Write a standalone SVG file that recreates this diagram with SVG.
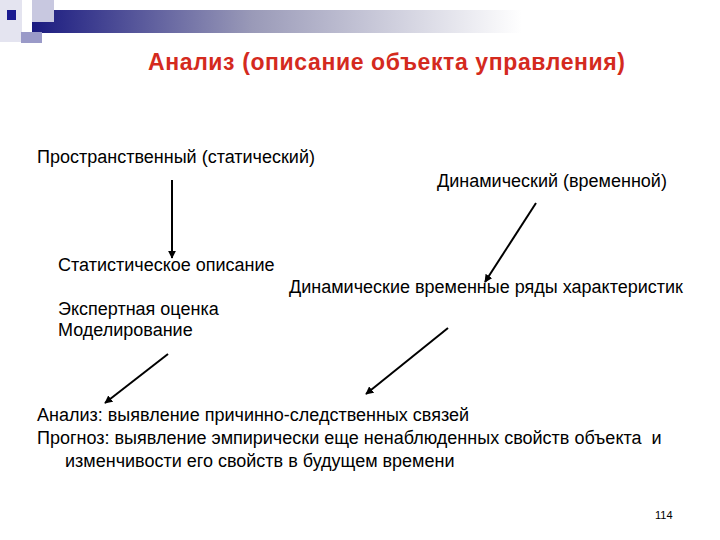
<svg xmlns="http://www.w3.org/2000/svg" width="720" height="540" viewBox="0 0 720 540">
<style>
.t{font-family:"Liberation Sans",Arial,sans-serif;font-size:18px;fill:#000}
.title{font-family:"Liberation Sans",Arial,sans-serif;font-size:23px;font-weight:bold;fill:#d42a1e}
.ln{stroke:#000;stroke-width:2;fill:none;marker-end:url(#ah)}
</style>
<defs>
<linearGradient id="bar" x1="0" y1="0" x2="1" y2="0">
<stop offset="0" stop-color="#1a1a80"/>
<stop offset="0.45" stop-color="#9a9ab8"/>
<stop offset="1" stop-color="#ffffff"/>
</linearGradient>
<marker id="ah" viewBox="0 0 10 10" refX="9" refY="5" markerWidth="4" markerHeight="4" orient="auto" markerUnits="strokeWidth">
<path d="M0,0 L10,5 L0,10 z" fill="#000"/>
</marker>
</defs>
<rect width="720" height="540" fill="#fff"/>
<g id="decoration">
<rect x="0" y="0" width="22" height="42" fill="#e4e4f0"/>
<rect x="32" y="10" width="490" height="23" fill="url(#bar)"/>
<rect x="32" y="0" width="22" height="22" fill="#c8c8e0"/>
<rect x="7" y="10" width="9" height="10" fill="#1a1a90"/>
<rect x="21" y="32" width="21" height="11" fill="#9a9ac8"/>
</g>
<g id="title"><text class="title" x="148" y="70" textLength="477" lengthAdjust="spacing">Анализ (описание объекта управления)</text></g>
<g id="spatial"><text class="t" x="37" y="163">Пространственный (статический)</text></g>
<g id="dynamic"><text class="t" x="437" y="187">Динамический (временной)</text></g>
<g id="static-methods">
<text class="t" x="58" y="271">Статистическое описание</text>
<text class="t" x="58" y="315">Экспертная оценка</text>
<text class="t" x="58" y="336">Моделирование</text>
</g>
<g id="dynamic-methods"><text class="t" x="289" y="293">Динамические временные ряды характеристик</text></g>
<g id="result">
<text class="t" x="37" y="421">Анализ: выявление причинно-следственных связей</text>
<text class="t" x="37" y="444" style="white-space:pre">Прогноз: выявление эмпирически еще ненаблюденных свойств объекта  и</text>
<text class="t" x="65" y="467">изменчивости его свойств в будущем времени</text>
</g>
<g id="page"><text x="655" y="519" style="font-family:'Liberation Sans',Arial,sans-serif;font-size:11px">114</text></g>
<g id="connectors">
<line class="ln" x1="172" y1="180" x2="172" y2="258"/>
<line class="ln" x1="536" y1="203" x2="485" y2="282"/>
<line class="ln" x1="168" y1="354" x2="105" y2="403"/>
<line class="ln" x1="448" y1="328" x2="366" y2="394"/>
</g>
</svg>
